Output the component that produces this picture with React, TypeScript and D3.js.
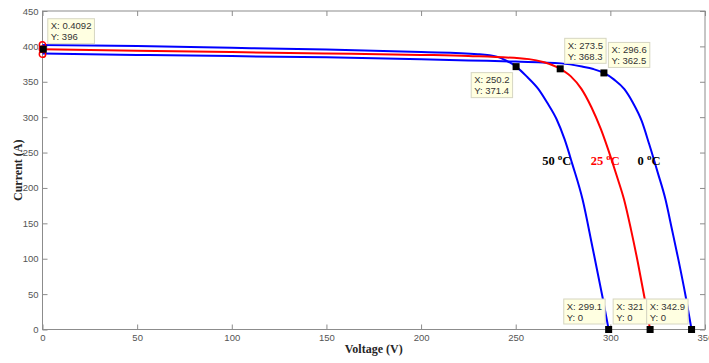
import React, { useEffect, useRef } from 'react';
import * as d3 from 'd3';

// axis ticks
const xTicks = [0, 50, 100, 150, 200, 250, 300, 350];
const yTicks = [0, 50, 100, 150, 200, 250, 300, 350, 400, 450];

// I-V curve, 0 oC (blue)
const volt0 = [0, 50, 100, 150, 200, 225, 250, 274, 285, 291, 296.6, 302, 307.4, 312, 316.5, 320.5, 325, 329.1, 332.5, 336, 339.8, 342.9];
const amp0 = [390, 388, 386.3, 384.5, 382, 380.2, 378.5, 376, 371.5, 368, 362.5, 353, 339.6, 320, 295, 262, 222, 184, 142, 98, 46.7, 0];

// I-V curve, 25 oC (red)
const volt25 = [0, 50, 100, 150, 200, 225, 257, 265, 273.5, 279, 284.7, 290, 295, 300.5, 304, 307.2, 311, 314.5, 317.9, 321];
const amp25 = [396, 394, 392, 390, 388, 386.5, 382, 377.5, 368.3, 358, 340, 314, 283, 241, 212, 184, 140, 95, 47, 0];

// I-V curve, 50 oC (blue)
const volt50 = [0, 50, 100, 150, 200, 230, 240, 245, 250.2, 256, 262, 266.5, 271.6, 275.8, 280, 285.3, 290.5, 295.8, 299.1];
const amp50 = [402, 400.5, 398, 395.5, 392, 389, 385.5, 380, 371.4, 357, 339.6, 321, 297, 268.9, 233, 184, 117, 46.7, 0];

// data tips
const tipX = [0.4092, 250.2, 273.5, 296.6, 299.1, 321, 342.9];
const tipY = [396, 371.4, 368.3, 362.5, 0, 0, 0];
const tipXLabel = ['0.4092', '250.2', '273.5', '296.6', '299.1', '321', '342.9'];
const tipYLabel = ['396', '371.4', '368.3', '362.5', '0', '0', '0'];
const tipSide = ['ne', 'sw', 'ne', 'ne', 'nw', 'nw', 'nw'];

// short-circuit markers
const iscV = [0, 0, 0];
const iscI = [402, 396, 389];

// temperature labels
const tempText = ['50 ', '25 ', '0 '];
const tempV = [264, 289.6, 314.4];
const tempI = [232, 232, 232];
const tempColor = ['#000000', '#ff0000', '#000000'];

const App: React.FC = () => {
  const svgRef = useRef<SVGSVGElement>(null);

  useEffect(() => {
    if (!svgRef.current) return;
    const margin = { top: 11, right: 4, bottom: 33.5, left: 42.5 };
    const W = 709, H = 363;
    const width = W - margin.left - margin.right;
    const height = H - margin.top - margin.bottom;

    d3.select(svgRef.current).selectAll("*").remove();
    const svg = d3.select(svgRef.current)
      .attr("width", W)
      .attr("height", H)
      .append("g")
      .attr("transform", `translate(${margin.left},${margin.top})`);

    const x = d3.scaleLinear().domain([0, 350]).range([0, width]);
    const y = d3.scaleLinear().domain([0, 450]).range([height, 0]);
    const axisColor = "#8c8c8c";
    const labelColor = "#555555";

    const styleAxis = (g: any) => {
      g.select(".domain").remove();
      g.selectAll(".tick line").attr("stroke", axisColor);
      g.selectAll(".tick text")
        .attr("fill", labelColor)
        .style("font-family", "'Liberation Sans', Arial, sans-serif")
        .style("font-size", "9.5px");
    };

    svg.append("g").attr("transform", `translate(0,${height})`)
      .call(d3.axisBottom(x).tickValues(xTicks).tickSizeInner(-5).tickSizeOuter(0).tickPadding(5))
      .call(styleAxis);
    svg.append("g")
      .call(d3.axisTop(x).tickValues(xTicks).tickSizeInner(-5).tickSizeOuter(0).tickFormat(() => ""))
      .call(styleAxis);
    svg.append("g")
      .call(d3.axisLeft(y).tickValues(yTicks).tickSizeInner(-5).tickSizeOuter(0).tickPadding(4))
      .call(styleAxis);
    svg.append("g").attr("transform", `translate(${width},0)`)
      .call(d3.axisRight(y).tickValues(yTicks).tickSizeInner(-5).tickSizeOuter(0).tickFormat(() => ""))
      .call(styleAxis);

    svg.append("rect")
      .attr("width", width).attr("height", height)
      .attr("fill", "none").attr("stroke", axisColor).attr("stroke-width", 1);

    const curves = [
      { v: volt0, a: amp0, color: "#0000ff" },
      { v: volt50, a: amp50, color: "#0000ff" },
      { v: volt25, a: amp25, color: "#ff0000" },
    ];
    const line = d3.line<[number, number]>()
      .x(d => x(d[0]))
      .y(d => y(d[1]))
      .curve(d3.curveMonotoneX);
    curves.forEach(c => {
      svg.append("path")
        .datum(c.v.map((v, i) => [v, c.a[i]] as [number, number]))
        .attr("fill", "none")
        .attr("stroke", c.color)
        .attr("stroke-width", 2)
        .attr("d", line);
    });

    svg.selectAll(".isc")
      .data(iscV.map((v, i) => [v, iscI[i]]))
      .enter().append("circle")
      .attr("cx", d => x(d[0])).attr("cy", d => y(d[1]))
      .attr("r", 3.2)
      .attr("fill", "none")
      .attr("stroke", "#ff0000")
      .attr("stroke-width", 1.5);

    // temperature labels
    tempText.forEach((t, i) => {
      const txt = svg.append("text")
        .attr("x", x(tempV[i])).attr("y", y(tempI[i]))
        .attr("fill", tempColor[i])
        .style("font-family", "'Liberation Serif', 'Times New Roman', serif")
        .style("font-weight", "bold")
        .style("font-size", "12.5px");
      txt.append("tspan").text(t);
      txt.append("tspan").attr("dy", -5).style("font-size", "9px").text("o");
      txt.append("tspan").attr("dy", 5).text("C");
    });

    // data tips
    tipX.forEach((tx, i) => {
      const px = x(tx), py = y(tipY[i]);
      const g = svg.append("g");
      const box = g.append("rect")
        .attr("fill", "#ffffe1")
        .attr("stroke", "#d6d6c2")
        .attr("stroke-width", 1);
      const t1 = g.append("text").text(`X: ${tipXLabel[i]}`);
      const t2 = g.append("text").text(`Y: ${tipYLabel[i]}`);
      [t1, t2].forEach(t => t
        .attr("fill", "#333333")
        .style("font-family", "'Liberation Sans', Arial, sans-serif")
        .style("font-size", "9.5px"));
      const tw = Math.max((t1.node() as SVGTextElement).getComputedTextLength(), (t2.node() as SVGTextElement).getComputedTextLength());
      const bw = tw + 6, bh = 25;
      let bx = px + 4.5, by = py - 5.5 - bh;
      if (tipSide[i] === 'sw') { bx = px - 3.5 - bw; by = py + 6; }
      if (tipSide[i] === 'nw') { bx = px - 3.5 - bw; by = py - 5.5 - bh; }
      box.attr("x", bx).attr("y", by).attr("width", bw).attr("height", bh);
      t1.attr("x", bx + 3).attr("y", by + 10.5);
      t2.attr("x", bx + 3).attr("y", by + 21.5);
      svg.append("rect")
        .attr("x", px - 3.5).attr("y", py - 3.5)
        .attr("width", 7).attr("height", 7)
        .attr("fill", "#000000");
    });

    // axis titles
    svg.append("text")
      .attr("x", width / 2).attr("y", height + 23.5)
      .attr("text-anchor", "middle")
      .attr("fill", "#262626")
      .style("font-family", "'Liberation Serif', 'Times New Roman', serif")
      .style("font-weight", "bold")
      .style("font-size", "12px")
      .text("Voltage (V)");
    svg.append("text")
      .attr("transform", `translate(${-21},${height / 2}) rotate(-90)`)
      .attr("text-anchor", "middle")
      .attr("fill", "#262626")
      .style("font-family", "'Liberation Serif', 'Times New Roman', serif")
      .style("font-weight", "bold")
      .style("font-size", "12px")
      .text("Current (A)");
  }, []);

  return (
    <div style={{ position: 'absolute', left: 0, top: 0, background: '#ffffff' }}>
      <svg ref={svgRef}></svg>
    </div>
  );
};

export default App;
